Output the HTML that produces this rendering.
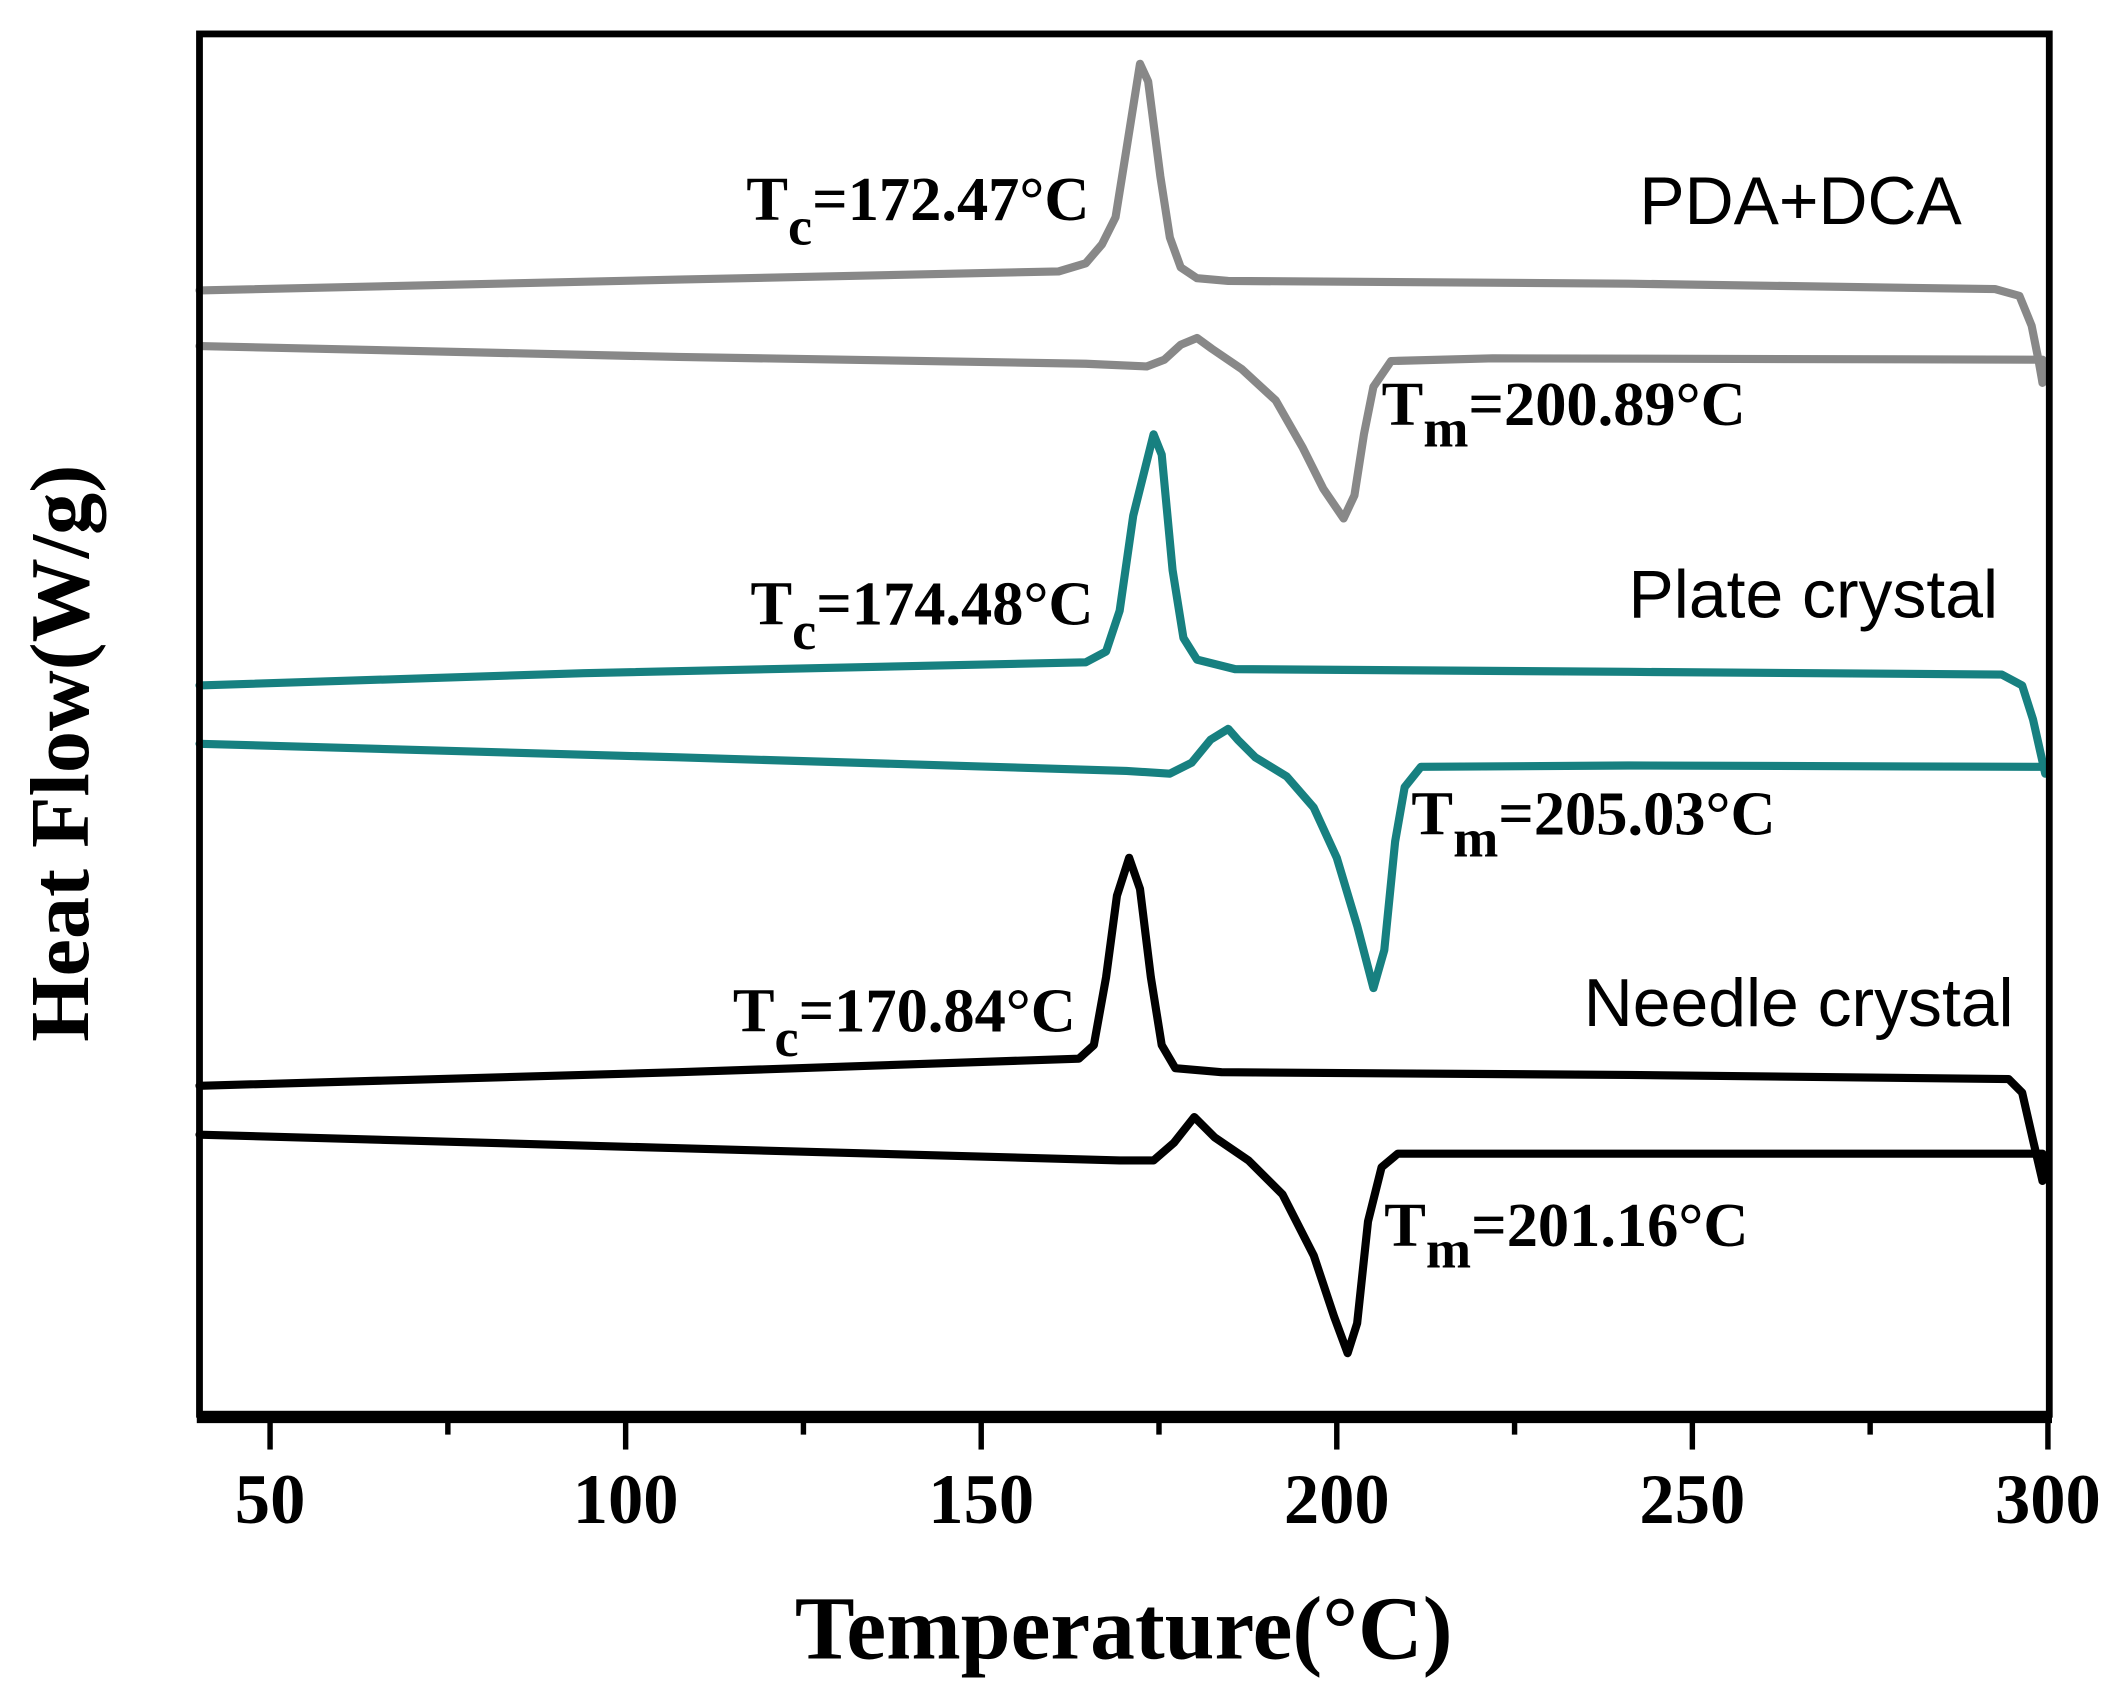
<!DOCTYPE html>
<html><head><meta charset="utf-8"><style>html,body{margin:0;padding:0;background:#fff}svg{display:block}</style></head>
<body>
<svg width="2128" height="1702" viewBox="0 0 1568 1254" preserveAspectRatio="none" xmlns="http://www.w3.org/2000/svg">
<rect width="1568" height="1254" fill="#fff"/>
<g fill="none" stroke-linejoin="round" stroke-linecap="round" stroke-width="6">
<polyline stroke="#888" points="147,214 500,206 780,200 800,194 812,180 822,160 830,110 840,47 846,60 855,130 862,175 870,197 882,205 905,207 1200,209 1470,213 1488,218 1497,240 1502,265 1505,282"/>
<polyline stroke="#888" points="147,255 500,263 800,268 845,270 858,265 870,254 882,249 893,257 915,272 940,295 960,330 975,360 990,382 998,365 1005,320 1012,285 1025,266 1100,264 1505,265 1505,282"/>
<polyline stroke="#178080" points="147,505 430,496 800,488 815,480 825,450 835,380 850,320 856,335 864,420 872,470 882,486 910,493 1200,495 1475,497 1490,505 1498,530 1507,570"/>
<polyline stroke="#178080" points="147,548 500,558 830,568 862,570 878,562 892,545 905,537 912,545 925,558 948,572 968,595 985,632 1000,682 1012,728 1020,700 1028,620 1035,580 1047,565 1200,564 1507,565"/>
<polyline stroke="#000" points="147,800 500,790 795,780 806,770 815,720 823,660 832,632 840,655 848,720 856,770 866,787 900,790 1200,792 1480,795 1490,805 1498,840 1505,870"/>
<polyline stroke="#000" points="147,836 500,846 825,855 850,855 865,842 880,823 895,838 920,855 945,880 968,925 983,970 993,997 1000,975 1008,900 1018,860 1030,850 1200,850 1505,850 1505,870"/>
</g>
<rect x="147" y="25" width="1363" height="1017" fill="none" stroke="#000" stroke-width="5"/>
<line x1="145" y1="1044" x2="1512" y2="1044" stroke="#000" stroke-width="9"/>
<g stroke="#000" stroke-width="4">
<line x1="199" y1="1048" x2="199" y2="1068"/><line x1="330" y1="1048" x2="330" y2="1057"/>
<line x1="461" y1="1048" x2="461" y2="1068"/><line x1="592" y1="1048" x2="592" y2="1057"/>
<line x1="723" y1="1048" x2="723" y2="1068"/><line x1="854" y1="1048" x2="854" y2="1057"/>
<line x1="985" y1="1048" x2="985" y2="1068"/><line x1="1116" y1="1048" x2="1116" y2="1057"/>
<line x1="1247" y1="1048" x2="1247" y2="1068"/><line x1="1378" y1="1048" x2="1378" y2="1057"/>
<line x1="1509" y1="1048" x2="1509" y2="1068"/>
</g>
<g font-family="Liberation Serif, serif" font-weight="bold" font-size="52" text-anchor="middle" fill="#000">
<text x="199" y="1122">50</text><text x="461" y="1122">100</text><text x="723" y="1122">150</text>
<text x="985" y="1122">200</text><text x="1247" y="1122">250</text><text x="1509" y="1122">300</text>
<text x="828" y="1222" font-size="66">Temperature(°C)</text>
<text transform="translate(65,555) rotate(-90)" font-size="62">Heat Flow(W/g)</text>
</g>
<g font-family="Liberation Serif, serif" font-weight="bold" font-size="46" fill="#000">
<text x="550" y="162">T<tspan font-size="40" dy="18">c</tspan><tspan dy="-18">=172.47°C</tspan></text>
<text x="553" y="460">T<tspan font-size="40" dy="18">c</tspan><tspan dy="-18">=174.48°C</tspan></text>
<text x="540" y="760">T<tspan font-size="40" dy="18">c</tspan><tspan dy="-18">=170.84°C</tspan></text>
<text x="1018" y="313">T<tspan font-size="40" dy="16">m</tspan><tspan dy="-16">=200.89°C</tspan></text>
<text x="1040" y="615">T<tspan font-size="40" dy="16">m</tspan><tspan dy="-16">=205.03°C</tspan></text>
<text x="1020" y="918">T<tspan font-size="40" dy="16">m</tspan><tspan dy="-16">=201.16°C</tspan></text>
</g>
<g font-family="Liberation Sans, sans-serif" font-size="50" fill="#000">
<text x="1208" y="165">PDA+DCA</text>
<text x="1200" y="455">Plate crystal</text>
<text x="1167" y="756">Needle crystal</text>
</g>
</svg>
</body></html>
